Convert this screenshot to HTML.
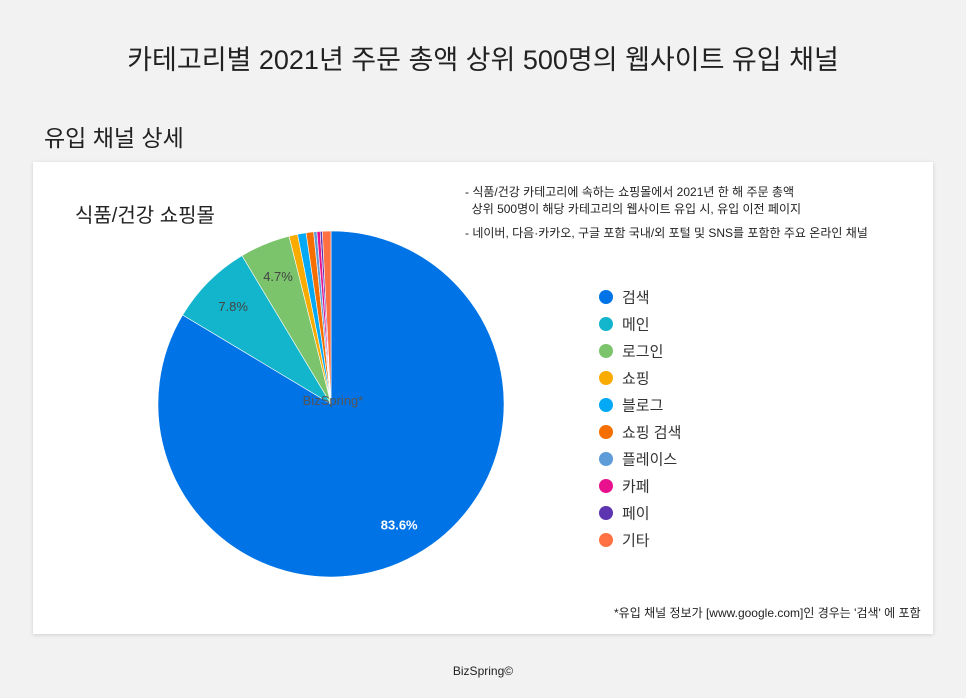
<!DOCTYPE html>
<html><head><meta charset="utf-8">
<style>
body{margin:0;width:966px;height:698px;background:#f2f2f2;font-family:"Liberation Sans","Noto Sans CJK KR",sans-serif;position:relative;overflow:hidden}
.t{position:absolute;white-space:nowrap;color:#222}
#card{position:absolute;left:33px;top:162px;width:900px;height:472px;background:#fff;box-shadow:0 1px 4px rgba(0,0,0,.15)}
</style></head><body>
<div class="t" style="left:0;width:966px;text-align:center;top:38px;font-size:27px">카테고리별 2021년 주문 총액 상위 500명의 웹사이트 유입 채널</div>
<div class="t" style="left:44px;top:119px;font-size:23px">유입 채널 상세</div>
<div id="card"></div>
<div class="t" style="left:75px;top:199px;font-size:20px">식품/건강 쇼핑몰</div>
<div class="t" style="left:465px;top:184px;font-size:12px;line-height:17px">- 식품/건강 카테고리에 속하는 쇼핑몰에서 2021년 한 해 주문 총액<br>&nbsp;&nbsp;상위 500명이 해당 카테고리의 웹사이트 유입 시, 유입 이전 페이지</div>
<div class="t" style="left:465px;top:224px;font-size:12px">- 네이버, 다음·카카오, 구글 포함 국내/외 포털 및 SNS를 포함한 주요 온라인 채널</div>
<div class="t" style="left:614px;top:604px;font-size:12px">*유입 채널 정보가 [www.google.com]인 경우는 '검색' 에 포함</div>
<div class="t" style="left:0;width:966px;text-align:center;top:664px;font-size:12px">BizSpring©</div>
<svg id="pie" width="966" height="698" style="position:absolute;left:0;top:0"></svg>
<script>
const categories=["검색","메인","로그인","쇼핑","블로그","쇼핑 검색","플레이스","카페","페이","기타"];
const values=[83.6,7.8,4.7,0.8,0.8,0.7,0.3,0.3,0.2,0.8];
const colors=["#0073e6","#12b5cb","#7bc46c","#f9ab00","#03a9f4","#f56f00","#5d9cd8","#e8108c","#5e35b1","#ff7043"];
const NS="http://www.w3.org/2000/svg",svg=document.getElementById('pie');
const cx=331,cy=404,r=173;
const total=values.reduce((a,b)=>a+b,0);
let a0=0;
function pt(a,rr){return [cx+rr*Math.sin(a),cy-rr*Math.cos(a)];}
values.forEach((v,i)=>{
  const a1=a0+v/total*2*Math.PI;
  const p0=pt(a0,r),p1=pt(a1,r);
  const p=document.createElementNS(NS,'path');
  p.setAttribute('d',`M${cx},${cy}L${p0[0]},${p0[1]}A${r},${r} 0 ${a1-a0>Math.PI?1:0} 1 ${p1[0]},${p1[1]}Z`);
  p.setAttribute('fill',colors[i]);p.setAttribute('stroke','#fff');p.setAttribute('stroke-width','0.6');
  
  
  svg.appendChild(p);
  if(v/total>0.04){
    const m=pt((a0+a1)/2,r*0.8);
    const t=document.createElementNS(NS,'text');
    t.setAttribute('x',m[0]);t.setAttribute('y',m[1]+5);t.setAttribute('text-anchor','middle');
    t.setAttribute('font-size','13');t.setAttribute('fill',i==0?'#fff':'#444');if(i==0)t.setAttribute('font-weight','bold');
    t.textContent=v.toFixed(1)+'%';
    
    
    svg.appendChild(t);
  }
  a0=a1;
});
const wm=document.createElementNS(NS,'text');
wm.setAttribute('x',333);wm.setAttribute('y',405);wm.setAttribute('text-anchor','middle');wm.setAttribute('font-size','13');wm.setAttribute('fill','#555');
wm.textContent='BizSpring*';


svg.appendChild(wm);
categories.forEach((c,i)=>{
  const y=297+i*27;
  const g=document.createElementNS(NS,'g');
  
  
  const ci=document.createElementNS(NS,'circle');
  ci.setAttribute('cx',606);ci.setAttribute('cy',y);ci.setAttribute('r',7);ci.setAttribute('fill',colors[i]);
  const t=document.createElementNS(NS,'text');
  t.setAttribute('x',622);t.setAttribute('y',y+5.5);t.setAttribute('font-size','15');t.setAttribute('fill','#333');
  t.textContent=c;
  g.appendChild(ci);g.appendChild(t);svg.appendChild(g);
});
</script>
</body></html>
